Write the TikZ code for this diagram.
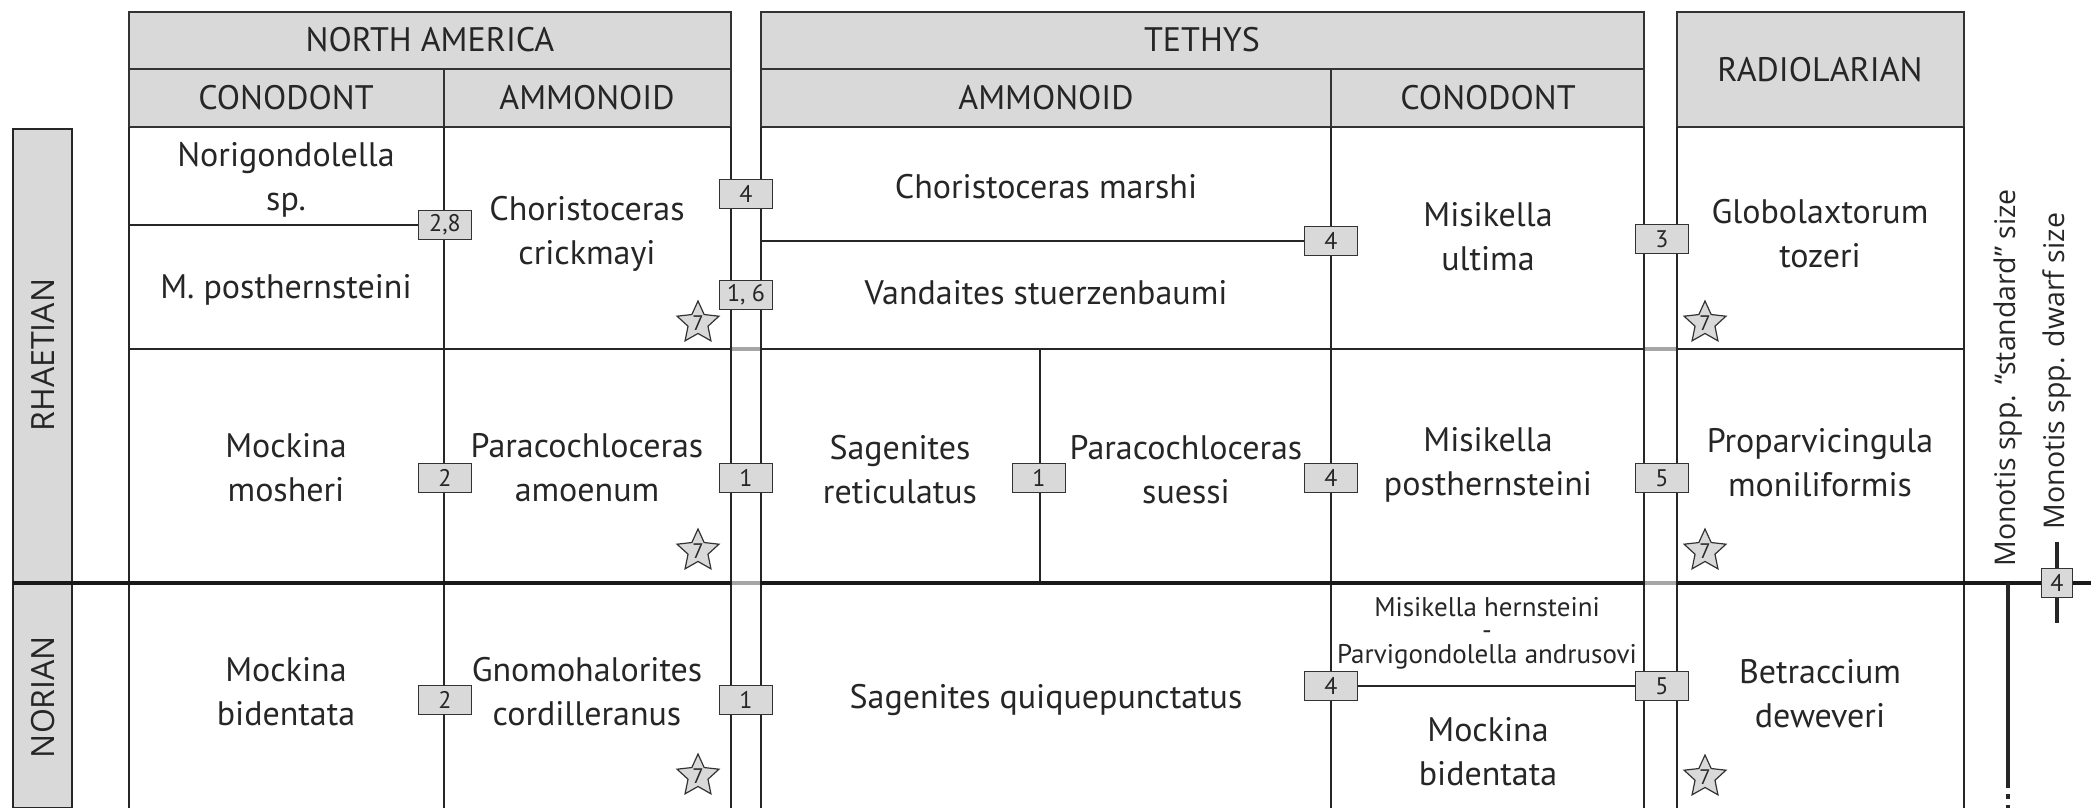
\documentclass[tikz,border=0pt]{standalone}
\usepackage{fontspec}
\setmainfont{PT Sans}
\newfontfamily\widesans{Open Sans}
\usetikzlibrary{shapes.geometric}

\begin{document}
\begin{tikzpicture}[x=1pt,y=-1pt,line width=1.6pt,color=black!85,
  head/.style={draw=black!80,fill=black!15},
  taxon/.style={align=center,inner sep=0pt,font=\fontsize{34}{44}\selectfont},
  small/.style={align=center,inner sep=0pt,font=\fontsize{27}{23.5}\selectfont},
  ref/.style={draw=black!80,fill=black!15,line width=1.2pt,minimum width=53pt,minimum height=29pt,inner sep=0pt,font=\fontsize{24}{24}\selectfont},
  refnarrow/.style={ref,minimum width=31pt},
  mark7/.style={star,star points=5,star point ratio=2.1,draw=black!80,fill=black!15,line width=1.2pt,minimum size=44pt,inner sep=0pt,font=\fontsize{21}{21}\selectfont},
  gapline/.style={draw=black!35,line width=4pt},
  boundary/.style={draw=black!90,line width=4pt},
  stagelabel/.style={rotate=90,inner sep=0pt,font=\widesans\fontsize{32}{32}\selectfont},
  monotis/.style={rotate=90,inner sep=0pt,font=\widesans\fontsize{28.5}{28.5}\selectfont}]
  \useasboundingbox (0,0) rectangle (2091,808);

  \draw[fill=black!15] (13,129) rectangle (72,583);
  \draw[fill=black!15] (13,583) rectangle (72,808);

  \draw[head] (129,12) rectangle (731,69);
  \draw[head] (129,69) rectangle (444,127);
  \draw[head] (444,69) rectangle (731,127);
  \draw[head] (761,12) rectangle (1644,69);
  \draw[head] (761,69) rectangle (1331,127);
  \draw[head] (1331,69) rectangle (1644,127);
  \draw[head] (1677,12) rectangle (1964,127);

  \draw (129,127) -- (129,808);
  \draw (444,127) -- (444,808);
  \draw (731,127) -- (731,808);
  \draw (761,127) -- (761,808);
  \draw (1040,349) -- (1040,583);
  \draw (1331,127) -- (1331,808);
  \draw (1644,127) -- (1644,808);
  \draw (1677,127) -- (1677,808);
  \draw (1964,127) -- (1964,808);

  \draw (129,349) -- (731,349);
  \draw (761,349) -- (1644,349);
  \draw (1677,349) -- (1964,349);
  \draw[gapline] (732,349) -- (760,349);
  \draw[gapline] (1645,349) -- (1676,349);

  \draw[boundary] (13,583) -- (2091,583);
  \draw[gapline] (732,583) -- (760,583);
  \draw[gapline] (1645,583) -- (1676,583);

  \node at (430,40) {\fontsize{34}{34}\selectfont NORTH AMERICA};
  \node at (286,98) {\fontsize{34}{34}\selectfont CONODONT};
  \node at (587,98) {\fontsize{34}{34}\selectfont AMMONOID};
  \node at (1202,40) {\fontsize{34}{34}\selectfont TETHYS};
  \node at (1046,98) {\fontsize{34}{34}\selectfont AMMONOID};
  \node at (1488,98) {\fontsize{34}{34}\selectfont CONODONT};
  \node at (1820,70) {\fontsize{34}{34}\selectfont RADIOLARIAN};

  \node[stagelabel] (rhaetian) at (43,355) {RHAETIAN};
  \node[stagelabel] (norian) at (43,697) {NORIAN};

  \node[taxon] (norigondolella) at (286,180) {Norigondolella\\sp.};
  \node[taxon] (mpost) at (286,290) {M. posthernsteini};
  \node[taxon] (crickmayi) at (587,234) {Choristoceras\\crickmayi};
  \node[taxon] (marshi) at (1046,187) {Choristoceras marshi};
  \node[taxon] (vandaites) at (1046,293) {Vandaites stuerzenbaumi};
  \node[taxon] (ultima) at (1488,237) {Misikella\\ultima};
  \node[taxon] (tozeri) at (1820,234) {Globolaxtorum\\tozeri};

  \node[taxon] (mosheri) at (286,468) {Mockina\\mosheri};
  \node[taxon] (amoenum) at (587,468) {Paracochloceras\\amoenum};
  \node[taxon] (reticulatus) at (900,470) {Sagenites\\reticulatus};
  \node[taxon] (suessi) at (1186,470) {Paracochloceras\\suessi};
  \node[taxon] (mispost) at (1488,465) {Misikella\\posthernsteini};
  \node[taxon] (moniliformis) at (1820,463) {Proparvicingula\\moniliformis};

  \node[taxon] (bidentataNA) at (286,692) {Mockina\\bidentata};
  \node[taxon] (cordilleranus) at (587,692) {Gnomohalorites\\cordilleranus};
  \node[taxon] (quiquepunctatus) at (1046,700) {Sagenites quiquepunctatus};
  \node[small] (hernsteini) at (1487,633) {Misikella hernsteini\\-\\Parvigondolella andrusovi};
  \node[taxon] (bidentataT) at (1488,752) {Mockina\\bidentata};
  \node[taxon] (deweveri) at (1820,694) {Betraccium\\deweveri};

  \node[ref] (r28) at (445,225) {2,8};
  \node[ref] (r4a) at (746,194) {4};
  \node[ref] (r16) at (746,295) {1, 6};
  \node[ref] (r4b) at (1331,241) {4};
  \node[ref] (r3) at (1662,239) {3};
  \draw (129,225) -- (r28.west);
  \draw (761,241) -- (r4b.west);

  \node[ref] (r2a) at (445,478) {2};
  \node[ref] (r1a) at (746,478) {1};
  \node[ref] (r1b) at (1039,478) {1};
  \node[ref] (r4c) at (1331,478) {4};
  \node[ref] (r5a) at (1662,478) {5};

  \node[ref] (r2b) at (445,700) {2};
  \node[ref] (r1c) at (746,700) {1};
  \node[ref] (r4d) at (1331,686) {4};
  \node[ref] (r5b) at (1662,686) {5};
  \draw (r4d.east) -- (r5b.west);

  \node[mark7] at (698,323) {7};
  \node[mark7] at (698,551) {7};
  \node[mark7] at (698,776) {7};
  \node[mark7] at (1705,323) {7};
  \node[mark7] at (1705,551) {7};
  \node[mark7] at (1705,777) {7};

  \coordinate (stdtop) at (2008,583);
  \coordinate (stdend) at (2008,783);
  \draw[line width=4pt] (stdtop) -- (stdend);
  \draw[line width=4pt,dash pattern=on 5pt off 6pt] (stdend) -- (2008,808);
  \node[monotis] (stdlabel) at (2008,378) {Monotis spp. “standard” size};

  \node[refnarrow] (r4e) at (2057,583) {4};
  \draw[line width=4pt] (r4e.north) -- (2057,542);
  \draw[line width=4pt] (r4e.south) -- (2057,623);
  \node[monotis] (dwarflabel) at (2057,371) {Monotis spp. dwarf size};
\end{tikzpicture}
\end{document}
